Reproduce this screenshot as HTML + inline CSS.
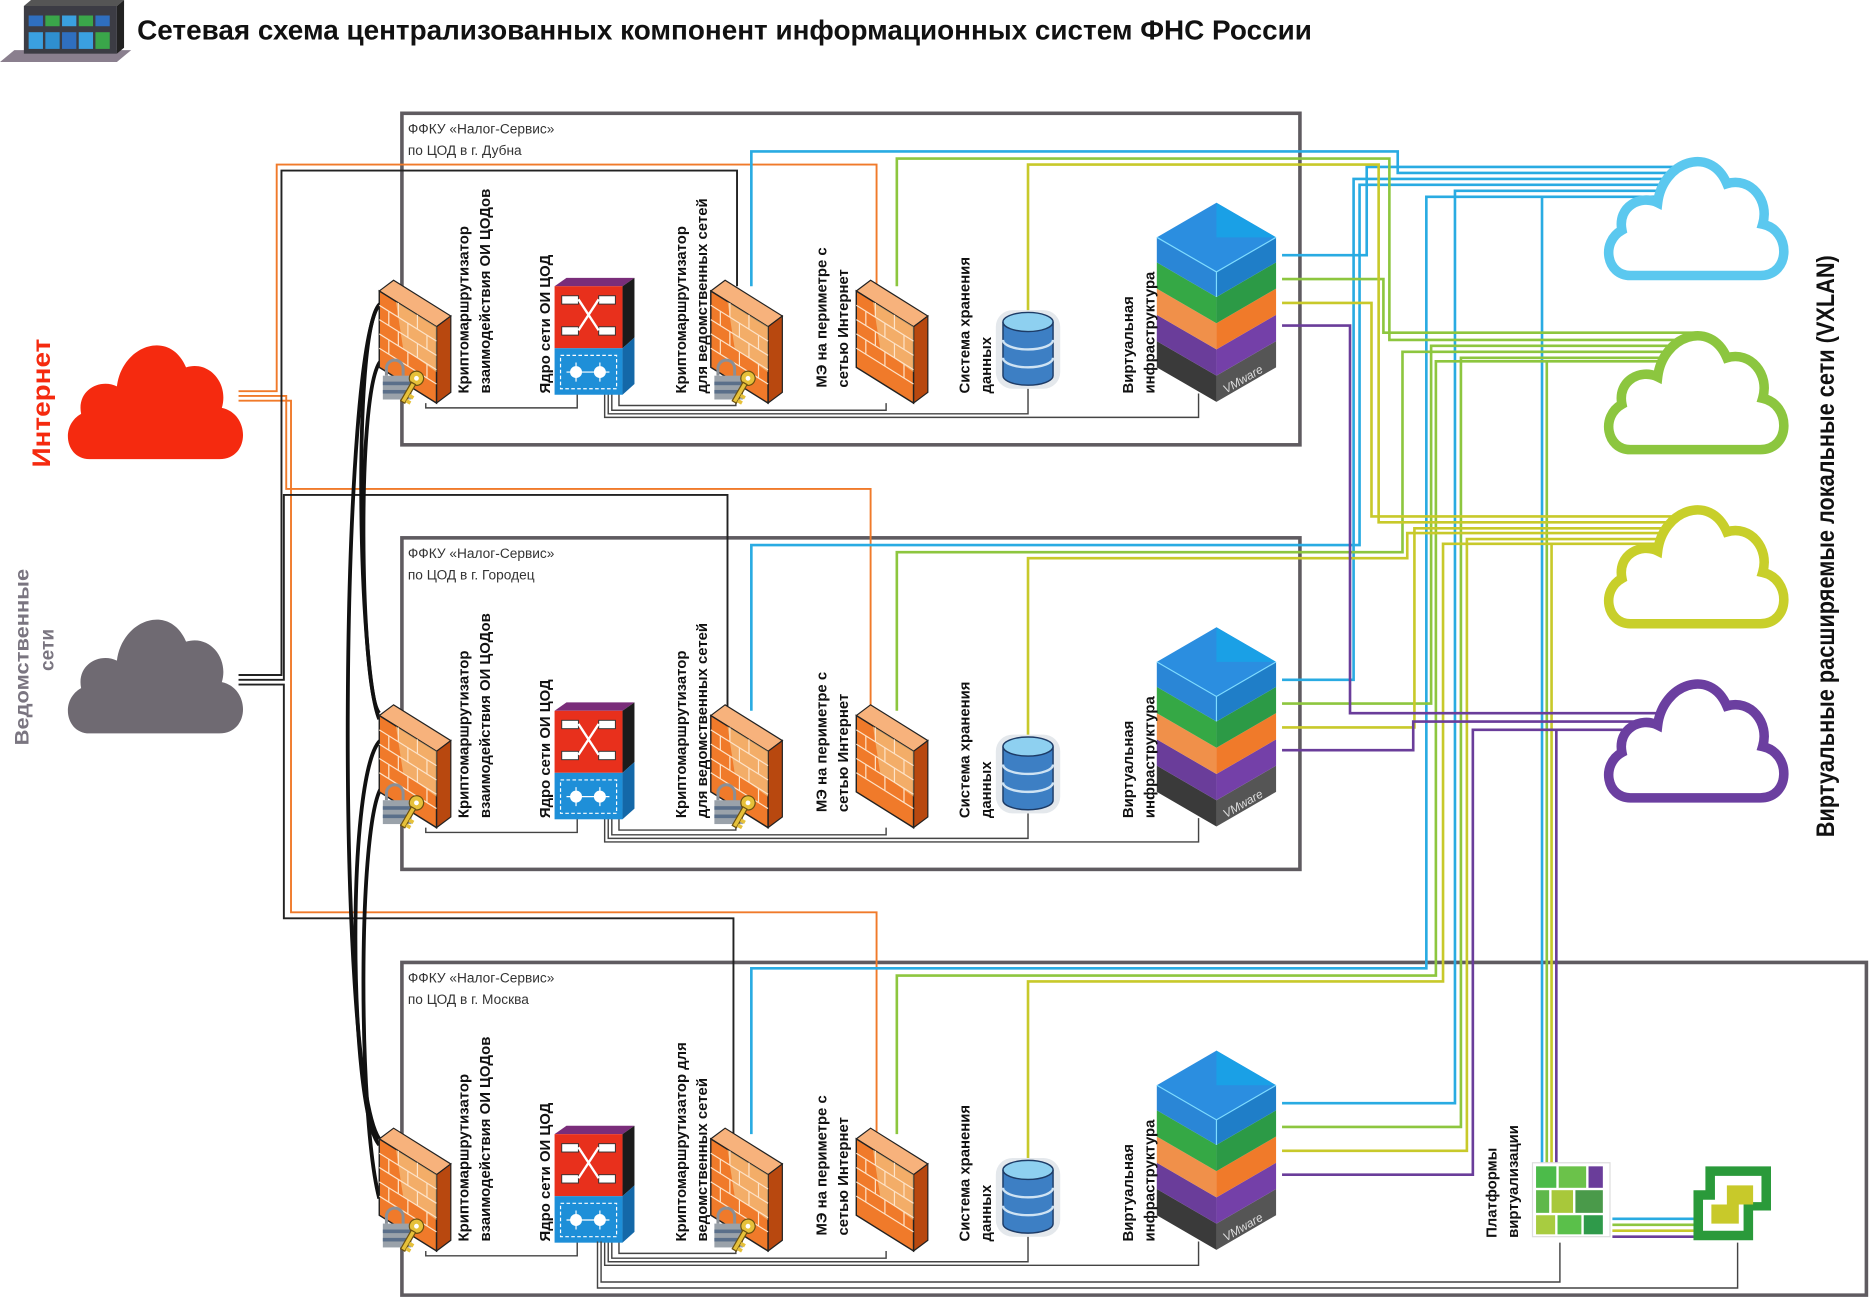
<!DOCTYPE html>
<html><head><meta charset="utf-8"><style>
html,body{margin:0;padding:0;background:#fff;}
svg{display:block;}
text{font-family:"Liberation Sans","DejaVu Sans",sans-serif;}
</style></head><body>
<svg width="1870" height="1298" viewBox="0 0 1568 1088.4" xmlns="http://www.w3.org/2000/svg">
<defs>
<g id="fw">
 <polygon points="0,12 12,3 60,33 48,42" fill="#f7b27c" stroke="#222" stroke-width="1"/>
 <polygon points="48,42 60,33 60,97 48,106" fill="#b8480f" stroke="#222" stroke-width="1"/>
 <polygon points="0,12 48,42 48,106 0,76" fill="#f07a2a" stroke="#222" stroke-width="1.2"/>
 <polygon points="14,21 48,42 48,80 20,60" fill="#f6d79a" opacity=".55"/>
 <g stroke="#fde3c8" stroke-width="1">
  <line x1="0" y1="24" x2="48" y2="54"/><line x1="0" y1="36" x2="48" y2="66"/>
  <line x1="0" y1="48" x2="48" y2="78"/><line x1="0" y1="60" x2="48" y2="90"/>
  <line x1="16" y1="22" x2="16" y2="34"/><line x1="32" y1="32" x2="32" y2="44"/>
  <line x1="8" y1="29" x2="8" y2="41"/><line x1="24" y1="39" x2="24" y2="51"/><line x1="40" y1="49" x2="40" y2="61"/>
  <line x1="16" y1="46" x2="16" y2="58"/><line x1="32" y1="56" x2="32" y2="68"/>
  <line x1="8" y1="53" x2="8" y2="65"/><line x1="24" y1="63" x2="24" y2="75"/><line x1="40" y1="73" x2="40" y2="85"/>
 </g>
</g>
<g id="lockkey">
 <path d="M5,12 V6 A7,7 0 0 1 19,6 V12" fill="none" stroke="#8a8f96" stroke-width="2.5"/>
 <rect x="2" y="12" width="24" height="20" fill="#9aa2aa"/>
 <rect x="2" y="17" width="24" height="3" fill="#5a6f8a"/><rect x="2" y="24" width="24" height="3" fill="#5a6f8a"/>
 <g transform="translate(28,6) rotate(30)"><circle cx="6" cy="6" r="6" fill="#e6c13a" stroke="#6b5010" stroke-width="1"/><circle cx="6" cy="6" r="2" fill="#fff"/><rect x="4" y="11" width="4" height="18" fill="#e6c13a" stroke="#6b5010" stroke-width="1"/><rect x="8" y="20" width="4" height="3" fill="#e6c13a"/><rect x="8" y="25" width="4" height="3" fill="#e6c13a"/></g>
</g>
<g id="core">
 <polygon points="0,7 10,0 67,0 57,7" fill="#7a2d7a"/>
 <rect x="0" y="7" width="57" height="52" fill="#e8301c"/>
 <rect x="0" y="59" width="57" height="39" fill="#1e8fd8"/>
 <polygon points="57,7 67,0 67,50 57,59" fill="#1b1b1b"/>
 <polygon points="57,59 67,50 67,89 57,98" fill="#1468a8"/>
 <rect x="6" y="15" width="14" height="7" fill="#fff" stroke="#333" stroke-width=".8"/><rect x="37" y="15" width="14" height="7" fill="#fff" stroke="#333" stroke-width=".8"/>
 <rect x="6" y="41" width="14" height="7" fill="#fff" stroke="#333" stroke-width=".8"/><rect x="37" y="41" width="14" height="7" fill="#fff" stroke="#333" stroke-width=".8"/>
 <path d="M20,18 L37,44 M20,44 L37,18" stroke="#fff" stroke-width="2"/>
 <rect x="5" y="65" width="47" height="28" fill="none" stroke="#fff" stroke-width="1" stroke-dasharray="3,2"/>
 <circle cx="18" cy="79" r="5" fill="#fff"/><circle cx="38" cy="79" r="5" fill="#fff"/>
 <path d="M10,79 H46 M18,71 V87 M38,71 V87" stroke="#fff" stroke-width="1"/>
</g>
<g id="stor">
 <rect x="0" y="0" width="54" height="66" rx="14" fill="#e4e8ec"/>
 <path d="M6,10 V55 A21,8 0 0 0 48,55 V10" fill="#3d7fc4" stroke="#1d3b66" stroke-width="1.2"/>
 <path d="M6,25 A21,8 0 0 0 48,25 M6,40 A21,8 0 0 0 48,40" fill="none" stroke="#cfe3f3" stroke-width="2"/>
 <ellipse cx="27" cy="10" rx="21" ry="8" fill="#8ed0f0" stroke="#1d3b66" stroke-width="1.2"/>
</g>
<g id="virt">
 <!-- relative to (970,170) -->
 <polygon points="0,116 50,145 50,167 0,138" fill="#3a3a3a"/>
 <polygon points="50,145 100,116 100,138 50,167" fill="#555"/>
 <polygon points="0,94 50,123 50,145 0,116" fill="#6a3d9a"/>
 <polygon points="50,123 100,94 100,116 50,145" fill="#7440a8"/>
 <polygon points="0,72 50,101 50,123 0,94" fill="#f0904a"/>
 <polygon points="50,101 100,72 100,94 50,123" fill="#f07a2a"/>
 <polygon points="0,50 50,79 50,101 0,72" fill="#35a845"/>
 <polygon points="50,79 100,50 100,72 50,101" fill="#2c9a46"/>
 <polygon points="0,29 50,58 50,79 0,50" fill="#2a86d6"/>
 <polygon points="50,58 100,29 100,50 50,79" fill="#1f7ec8"/>
 <polygon points="50,0 100,29 50,58 0,29" fill="#2b8ee0"/>
 <polygon points="50,0 100,29 50,29" fill="#1aa0e6"/>
 <path d="M0,29 L50,58 L100,29 M50,58 V79" stroke="#7fdcff" stroke-width="1" fill="none"/>
 <text x="0" y="0" transform="translate(58,160) rotate(-30)" font-size="10" font-style="italic" fill="#ddd">VMware</text>
</g>
<path id="cloud" d="M25,113 C5,113 0,85 18,75 C14,55 34,45 48,52 C52,18 92,3 106,36 C126,30 142,50 136,70 C160,75 160,113 134,113 Z"/>
<g id="inner">
 <g fill="none" stroke="#444" stroke-width="1.2">
  <path d="M357,338 V342 H484 V330"/>
  <path d="M519,330 V340 H617 V338"/>
  <path d="M513,330 V344 H743 V338"/>
  <path d="M510,330 V347 H862 V326"/>
  <path d="M507,330 V350 H1005 V330"/>
 </g>
 <use href="#fw" x="318" y="232"/>
 <use href="#lockkey" x="319" y="303"/>
 <use href="#core" x="465" y="233"/>
 <use href="#fw" x="596" y="232"/>
 <use href="#lockkey" x="597" y="303"/>
 <use href="#fw" x="718" y="232"/>
 <use href="#stor" x="835" y="260"/>
 <use href="#virt" x="970" y="170"/>
</g>
</defs>

<!-- title -->
<g>
 <polygon points="0,52 12,42 110,42 98,52" fill="#8a7f8e"/>
 <rect x="20" y="5" width="78" height="40" fill="#3c3c44"/>
 <polygon points="20,5 26,0 104,0 98,5" fill="#555"/>
 <polygon points="98,5 104,0 104,40 98,45" fill="#222"/>
 <rect x="24" y="13" width="12" height="9" fill="#2f6fc0"/><rect x="38" y="13" width="12" height="9" fill="#3aa64a"/><rect x="52" y="13" width="12" height="9" fill="#3aa0e0"/><rect x="66" y="13" width="12" height="9" fill="#3aa64a"/><rect x="80" y="13" width="12" height="9" fill="#2f6fc0"/>
 <rect x="24" y="27" width="12" height="14" fill="#3aa0e0"/><rect x="38" y="27" width="12" height="14" fill="#2f8fd0"/><rect x="52" y="27" width="12" height="14" fill="#2f6fc0"/><rect x="66" y="27" width="12" height="14" fill="#3aa0e0"/><rect x="80" y="27" width="12" height="14" fill="#3aa64a"/>
</g>
<text x="115" y="33" font-size="23" font-weight="bold" fill="#111" textLength="985" lengthAdjust="spacingAndGlyphs">Сетевая схема централизованных компонент информационных систем ФНС России</text>

<!-- boxes -->
<g fill="none" stroke="#5f5b60" stroke-width="3">
 <rect x="337" y="95" width="753" height="278"/>
 <rect x="337" y="451" width="753" height="278"/>
 <path d="M337,807 H1565 V1086 H337 Z"/>
</g>
<g font-size="11.5" fill="#333">
 <text x="342" y="112">ФФКУ «Налог-Сервис»</text><text x="342" y="130">по ЦОД в г. Дубна</text>
 <text x="342" y="468">ФФКУ «Налог-Сервис»</text><text x="342" y="486">по ЦОД в г. Городец</text>
 <text x="342" y="824">ФФКУ «Налог-Сервис»</text><text x="342" y="842">по ЦОД в г. Москва</text>
</g>

<!-- orange / black feeder lines -->
<g fill="none" stroke-width="1.6">
 <path d="M200,328 H232 V138 H735 V240" stroke="#f07a2a"/>
 <path d="M200,332 H240 V410 H730 V596" stroke="#f07a2a"/>
 <path d="M200,336 H244 V765 H735 V951" stroke="#f07a2a"/>
 <path d="M200,566 H236 V143 H618 V240" stroke="#222"/>
 <path d="M200,570 H238 V415 H610 V596" stroke="#222"/>
 <path d="M200,574 H238 V770 H615 V951" stroke="#222"/>
</g>

<!-- colored VXLAN routes -->
<g fill="none" stroke-width="2.2">
 <g stroke="#29abe2">
  <path d="M1075,214 H1146 V140 H1420"/>
  <path d="M630,240 V127 H1172 V145 H1420"/>
  <path d="M1075,570 H1135 V150 H1420"/>
  <path d="M630,596 V457 H1140 V155 H1420"/>
  <path d="M1075,925 H1220 V160 H1420"/>
  <path d="M630,951 V812 H1196 V165 H1420"/>
  <path d="M1293,165 V975"/>
 </g>
 <g stroke="#8dc63f">
  <path d="M1075,234 H1160 V279 H1420"/>
  <path d="M752,240 V133 H1165 V285 H1420"/>
  <path d="M1075,590 H1200 V290 H1420"/>
  <path d="M752,596 V463 H1176 V295 H1420"/>
  <path d="M1075,945 H1225 V300 H1420"/>
  <path d="M752,951 V818 H1204 V303 H1420"/>
  <path d="M1297,303 V975"/>
 </g>
 <g stroke="#c8c92a">
  <path d="M1075,254 H1150 V433 H1420"/>
  <path d="M862,262 V138 H1156 V438 H1420"/>
  <path d="M1075,610 H1186 V443 H1420"/>
  <path d="M862,618 V468 H1180 V447 H1420"/>
  <path d="M1075,965 H1230 V452 H1420"/>
  <path d="M862,973 V823 H1210 V456 H1420"/>
  <path d="M1301,456 V975"/>
 </g>
 <g stroke="#6a3d9a">
  <path d="M1075,273 H1132 V598 H1420"/>
  <path d="M1075,629 H1185 V605 H1420"/>
  <path d="M1075,985 H1235 V612 H1420"/>
  <path d="M1305,612 V975"/>
 </g>
 <path d="M1352,1022 H1420" stroke="#29abe2"/>
 <path d="M1352,1027 H1420" stroke="#8dc63f"/>
 <path d="M1352,1032 H1420" stroke="#c8c92a"/>
 <path d="M1352,1037 H1420" stroke="#6a3d9a"/>
</g>

<!-- black arcs between crypto routers -->
<g fill="none" stroke="#111" stroke-width="3.2">
 <path d="M320,254 C295,262 300,560 318,603"/>
 <path d="M320,302 C298,320 302,580 318,598"/>
 <path d="M320,254 C285,270 280,900 318,955"/>
 <path d="M320,620 C290,640 292,930 318,960"/>
 <path d="M320,660 C300,690 300,935 318,1005"/>
</g>

<!-- components -->
<use href="#inner"/>
<use href="#inner" y="356"/>
<use href="#inner" y="711"/>
<g fill="none" stroke="#444" stroke-width="1.2">
 <path d="M504,1041 V1075 H1308 V1042"/>
 <path d="M501,1041 V1080 H1457 V1042"/>
</g>

<!-- platform icons -->
<g>
 <rect x="1285" y="975" width="65" height="62" fill="#fff" stroke="#ddd"/>
 <rect x="1288" y="978" width="17" height="18" fill="#4cbb4a"/><rect x="1307" y="978" width="23" height="18" fill="#6bc24a"/><rect x="1332" y="978" width="12" height="18" fill="#6a3d9a"/>
 <rect x="1288" y="998" width="11" height="19" fill="#5fb84a"/><rect x="1301" y="998" width="18" height="19" fill="#a8c83a"/><rect x="1321" y="998" width="23" height="19" fill="#4a9a4a"/>
 <rect x="1288" y="1019" width="16" height="16" fill="#a8cc40"/><rect x="1306" y="1019" width="20" height="16" fill="#5ac04a"/><rect x="1328" y="1019" width="16" height="16" fill="#2f9a4a"/>
 <path d="M1430,978 H1485 V1015 H1470 V1040 H1420 V998 H1430 Z" fill="#2a9a3a"/>
 <path d="M1438,986 H1477 V1008 H1462 V1032 H1428 V1006 H1438 Z" fill="#fff"/>
 <path d="M1448,994 H1470 V1010 H1458 V1026 H1435 V1010 H1448 Z" fill="#c8c92a"/>
</g>

<!-- clouds -->
<use href="#cloud" x="50" y="272" fill="#f52a0f"/>
<use href="#cloud" x="50" y="502" fill="#6f6a72"/>
<g fill="#fff" stroke-width="8">
 <use href="#cloud" x="1342" y="118" stroke="#5bc8ef"/>
 <use href="#cloud" x="1342" y="264" stroke="#8cc63f"/>
 <use href="#cloud" x="1342" y="410" stroke="#c8cf2a"/>
 <use href="#cloud" x="1342" y="556" stroke="#6b3fa0"/>
</g>

<!-- side labels -->
<text transform="translate(42,392) rotate(-90)" font-size="21" font-weight="bold" fill="#f52a0f" textLength="108" lengthAdjust="spacingAndGlyphs">Интернет</text>
<text transform="translate(24,625) rotate(-90)" font-size="16" font-weight="bold" fill="#7a7580" textLength="148" lengthAdjust="spacingAndGlyphs">Ведомственные</text>
<text transform="translate(45,545) rotate(-90)" font-size="16" font-weight="bold" fill="#7a7580" text-anchor="middle">сети</text>
<text transform="translate(1538,702) rotate(-90)" font-size="21" font-weight="bold" fill="#111" textLength="488" lengthAdjust="spacingAndGlyphs">Виртуальные расширяемые локальные сети (VXLAN)</text>

<!-- component labels -->
<g font-size="12.5" font-weight="bold" fill="#111">
 <text transform="translate(393,330) rotate(-90)">Криптомаршрутизатор</text>
 <text transform="translate(411,330) rotate(-90)">взаимодействия ОИ ЦОДов</text>
 <text transform="translate(461,330) rotate(-90)">Ядро сети ОИ ЦОД</text>
 <text transform="translate(575,330) rotate(-90)">Криптомаршрутизатор</text>
 <text transform="translate(593,330) rotate(-90)">для ведомственных сетей</text>
 <text transform="translate(693,325) rotate(-90)">МЭ на периметре с</text>
 <text transform="translate(711,325) rotate(-90)">сетью Интернет</text>
 <text transform="translate(813,330) rotate(-90)">Система хранения</text>
 <text transform="translate(831,330) rotate(-90)">данных</text>
 <text transform="translate(950,330) rotate(-90)">Виртуальная</text>
 <text transform="translate(968,330) rotate(-90)">инфраструктура</text>

 <text transform="translate(393,686) rotate(-90)">Криптомаршрутизатор</text>
 <text transform="translate(411,686) rotate(-90)">взаимодействия ОИ ЦОДов</text>
 <text transform="translate(461,686) rotate(-90)">Ядро сети ОИ ЦОД</text>
 <text transform="translate(575,686) rotate(-90)">Криптомаршрутизатор</text>
 <text transform="translate(593,686) rotate(-90)">для ведомственных сетей</text>
 <text transform="translate(693,681) rotate(-90)">МЭ на периметре с</text>
 <text transform="translate(711,681) rotate(-90)">сетью Интернет</text>
 <text transform="translate(813,686) rotate(-90)">Система хранения</text>
 <text transform="translate(831,686) rotate(-90)">данных</text>
 <text transform="translate(950,686) rotate(-90)">Виртуальная</text>
 <text transform="translate(968,686) rotate(-90)">инфраструктура</text>

 <text transform="translate(393,1041) rotate(-90)">Криптомаршрутизатор</text>
 <text transform="translate(411,1041) rotate(-90)">взаимодействия ОИ ЦОДов</text>
 <text transform="translate(461,1041) rotate(-90)">Ядро сети ОИ ЦОД</text>
 <text transform="translate(575,1041) rotate(-90)">Криптомаршрутизатор для</text>
 <text transform="translate(593,1041) rotate(-90)">ведомственных сетей</text>
 <text transform="translate(693,1036) rotate(-90)">МЭ на периметре с</text>
 <text transform="translate(711,1036) rotate(-90)">сетью Интернет</text>
 <text transform="translate(813,1041) rotate(-90)">Система хранения</text>
 <text transform="translate(831,1041) rotate(-90)">данных</text>
 <text transform="translate(950,1041) rotate(-90)">Виртуальная</text>
 <text transform="translate(968,1041) rotate(-90)">инфраструктура</text>
 <text transform="translate(1255,1038) rotate(-90)">Платформы</text>
 <text transform="translate(1273,1038) rotate(-90)">виртуализации</text>
</g>
</svg>
</body></html>
